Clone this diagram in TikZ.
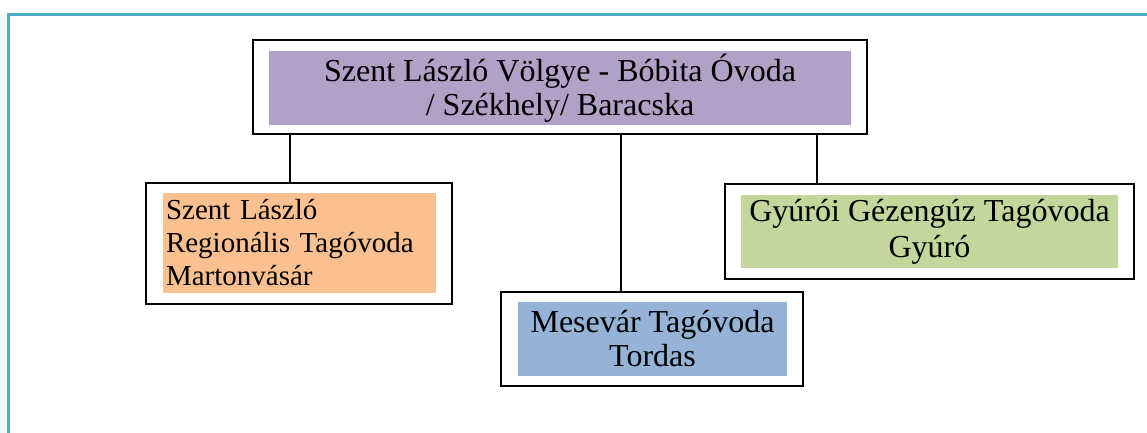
\documentclass[tikz,border=0pt]{standalone}
\usepackage{fontspec}
\setmainfont{Liberation Serif}
\definecolor{keretszin}{RGB}{75,172,198}
\definecolor{lila}{RGB}{178,161,199}
\definecolor{narancs}{RGB}{250,192,144}
\definecolor{kek}{RGB}{149,179,215}
\definecolor{zold}{RGB}{195,214,155}

\begin{document}
\begin{tikzpicture}[x=1pt, y=-1pt,
		doboz/.style={draw, line width=1.7pt, inner sep=0pt, outer sep=0pt},
		belso/.style={inner sep=0pt, outer sep=0pt, align=center, font=\fontsize{32}{34}\selectfont},
		vonal/.style={line width=1.3pt}]
	\useasboundingbox (0,0) rectangle (1147,432);
	\draw[keretszin, line width=2.5pt] (8.3,14.3) rectangle (1180,470); % kulso keret

	\node[doboz, minimum width=614, minimum height=94] (szekhely) at (560,87) {};
	\node[belso, fill=lila, minimum width=582, minimum height=74] (szekhelyin) at (560,88) {Szent László Völgye - Bóbita Óvoda\\/ Székhely/ Baracska};

	\node[doboz, minimum width=306, minimum height=121] (marton) at (299,243.5) {};
	\node[belso, fill=narancs, minimum width=273, minimum height=100, text width=267, align=left, font=\fontsize{29}{33}\selectfont] (martonin) at (299.5,243) {Szent László\\Regionális Tagóvoda\\Martonvásár};

	\node[doboz, minimum width=302, minimum height=94] (tordas) at (652,339) {};
	\node[belso, fill=kek, minimum width=269, minimum height=74] (tordasin) at (652.5,339) {Mesevár Tagóvoda\\Tordas};

	\node[doboz, minimum width=409, minimum height=95] (gyuro) at (929.5,231.5) {};
	\node[belso, fill=zold, minimum width=377, minimum height=73, font=\fontsize{32}{36}\selectfont] (gyuroin) at (929.5,231.5) {Gyúrói Gézengúz Tagóvoda\\Gyúró};

	\coordinate (ag1) at (290,0);
	\coordinate (ag2) at (621,0);
	\coordinate (ag3) at (817,0);
	\draw[vonal] (ag1 |- szekhely.south) -- (ag1 |- marton.north); % Martonvasar
	\draw[vonal] (ag2 |- szekhely.south) -- (ag2 |- tordas.north); % Tordas
	\draw[vonal] (ag3 |- szekhely.south) -- (ag3 |- gyuro.north); % Gyuro
\end{tikzpicture}
\end{document}
